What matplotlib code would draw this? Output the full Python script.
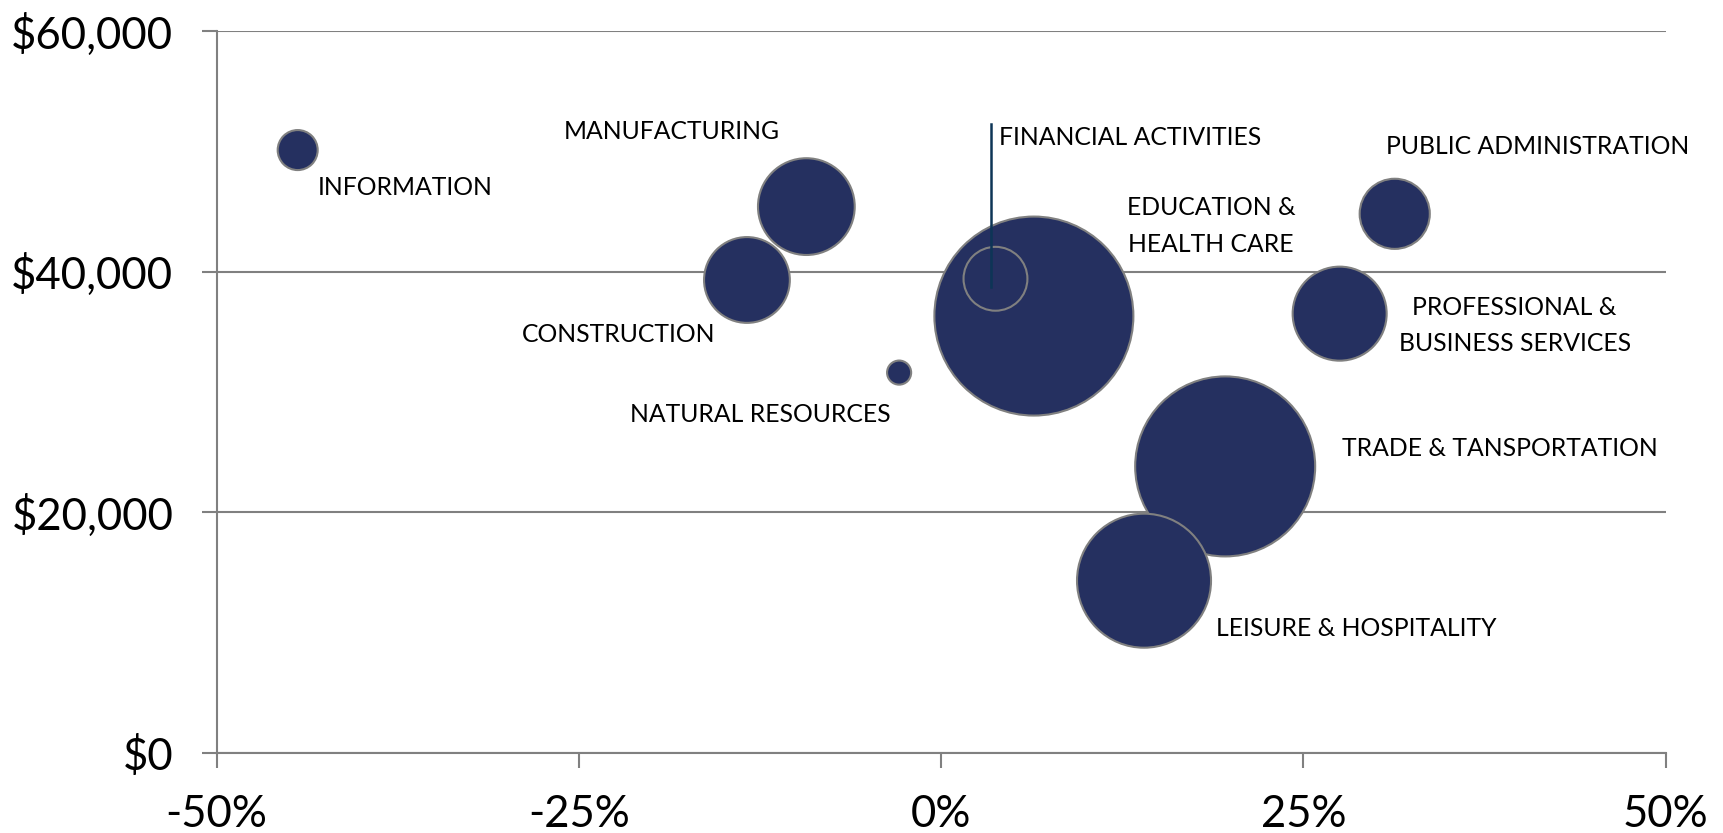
import matplotlib.pyplot as plt
from matplotlib.ticker import FuncFormatter

plt.rcParams['font.family'] = ['Lato', 'DejaVu Sans']

# job growth (%), average wage ($), relative employment (bubble area)
sectors = ['INFORMATION', 'MANUFACTURING', 'CONSTRUCTION', 'NATURAL RESOURCES',
           'EDUCATION &\nHEALTH CARE', 'FINANCIAL ACTIVITIES', 'PUBLIC ADMINISTRATION',
           'PROFESSIONAL &\nBUSINESS SERVICES', 'TRADE & TANSPORTATION', 'LEISURE & HOSPITALITY']
growth = [-44.4, -9.3, -13.4, -2.9, 6.4, 3.75, 31.3, 27.5, 19.6, 14.0]
wage = [50100, 45400, 39300, 31600, 36300, 39400, 44800, 36500, 23800, 14300]
employment = [4.0, 23.4, 18.4, 1.45, 99.0, 10.2, 12.3, 22.1, 81.0, 44.9]

# label offsets in pixels from bubble centre, and alignment
offsets = [(20, -37, 'left'), (-27, 75, 'right'), (-32, -55, 'right'), (-8, -42, 'right'),
           (177, 90, 'center'), (4, 141, 'left'), (-9, 67, 'left'),
           (175, -12, 'center'), (117, 18, 'left'), (72, -48, 'left')]

navy = '#253060'
edge = '#808080'

fig = plt.figure(figsize=(17.24, 8.33), dpi=100)
ax = fig.add_axes([0.1256, 0.0964, 0.8406, 0.8664])

max_r = 99.5  # px radius of the largest bubble
sizes = [(2 * max_r * 0.72) ** 2 * e / max(employment) for e in employment]
ax.scatter(growth, wage, s=sizes, color=navy, edgecolors=edge, linewidths=1.5, zorder=3)

for name, x, y, (dx, dy, ha) in zip(sectors, growth, wage, offsets):
    ax.annotate(name, (x, y), xytext=(dx, dy), textcoords='offset pixels',
                ha=ha, va='center', fontsize=17.8, color='black',
                multialignment='center', linespacing=1.7, zorder=5)

# leader line for financial activities
fi = sectors.index('FINANCIAL ACTIVITIES')
ax.plot([growth[fi] - 0.3] * 2, [wage[fi] + 12900, wage[fi] - 700],
        color='#0d3556', lw=1.8, zorder=4)

ax.set_xlim(-50, 50)
ax.set_ylim(0, 60000)
ax.set_xticks([-50, -25, 0, 25, 50])
ax.set_yticks([0, 20000, 40000, 60000])
ax.xaxis.set_major_formatter(FuncFormatter(lambda v, p: f'{v:.0f}%'))
ax.yaxis.set_major_formatter(FuncFormatter(lambda v, p: f'${v:,.0f}'))

ax.grid(axis='y', color=edge, lw=1.5, zorder=0)
ax.set_axisbelow(True)
for s in ['top', 'right']:
    ax.spines[s].set_visible(False)
for s in ['left', 'bottom']:
    ax.spines[s].set_color(edge)
    ax.spines[s].set_linewidth(1.5)
ax.tick_params(axis='both', colors=edge, width=1.5, length=11, labelsize=31.5, labelcolor='black')
ax.tick_params(axis='y', pad=20)
ax.tick_params(axis='x', pad=19)

fig.savefig('out.png', dpi=100)
